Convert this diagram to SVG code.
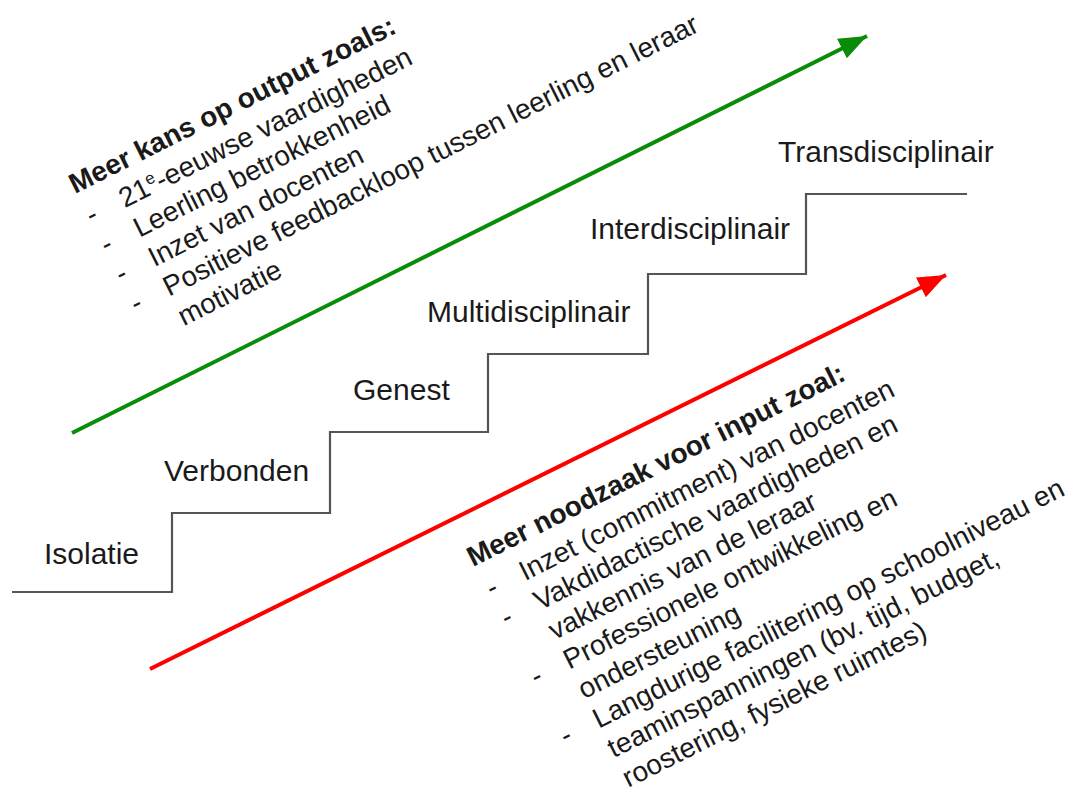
<svg xmlns="http://www.w3.org/2000/svg" width="1073" height="792" viewBox="0 0 1073 792">
<style>
text{font-family:"Liberation Sans",Arial,sans-serif;fill:#1a1a1a}
.step{font-size:30px}
.lst{font-size:28px}
.ttl{font-size:28px;font-weight:bold}
.stair{fill:none;stroke:#555;stroke-width:2.2}
.g{stroke:#0a8c0a;stroke-width:4;fill:none}
.r{stroke:#ff0000;stroke-width:4;fill:none}
</style>
<defs>
<marker id="ag" markerUnits="userSpaceOnUse" markerWidth="30" markerHeight="24" refX="28" refY="12" orient="auto"><path d="M0,1 L28,12 L0,23 Z" fill="#0a8c0a"/></marker>
<marker id="ar" markerUnits="userSpaceOnUse" markerWidth="30" markerHeight="24" refX="28" refY="12" orient="auto"><path d="M0,1 L28,12 L0,23 Z" fill="#ff0000"/></marker>
</defs>
<rect width="1073" height="792" fill="#fff"/>
<g id="staircase"><path class="stair" d="M12,592 H172 V513 H330 V432 H488 V354 H648 V274 H806 V194 H967"/></g>
<g id="connectors">
<path class="g" d="M72,433 L867,36" marker-end="url(#ag)"/>
<path class="r" d="M150,669 L946,275" marker-end="url(#ar)"/>
</g>
<g id="isolatie"><text class="step" x="44" y="564">Isolatie</text></g>
<g id="verbonden"><text class="step" x="164" y="481">Verbonden</text></g>
<g id="genest"><text class="step" x="353" y="400">Genest</text></g>
<g id="multidisciplinair"><text class="step" x="427" y="322">Multidisciplinair</text></g>
<g id="interdisciplinair"><text class="step" x="590" y="239">Interdisciplinair</text></g>
<g id="transdisciplinair"><text class="step" x="778" y="162">Transdisciplinair</text></g>
<g id="output" transform="translate(75,194) rotate(-26.6)">
<text class="ttl" x="0" y="0">Meer kans op output zoals:</text>
<text class="lst" x="1" y="35">-</text>
<text class="lst" x="1" y="68">-</text>
<text class="lst" x="1" y="101">-</text>
<text class="lst" x="1" y="134">-</text>
<text class="lst" x="38" y="35">21<tspan font-size="17" dy="-10">e</tspan><tspan dy="10">-eeuwse vaardigheden</tspan></text>
<text class="lst" x="38" y="68">Leerling betrokkenheid</text>
<text class="lst" x="38" y="101">Inzet van docenten</text>
<text class="lst" x="38" y="134">Positieve feedbackloop tussen leerling en leraar</text>
<text class="lst" x="38" y="167">motivatie</text>
</g>
<g id="input" transform="translate(473,567) rotate(-26.6)">
<text class="ttl" x="0" y="0">Meer noodzaak voor input zoal:</text>
<text class="lst" x="3" y="36">-</text>
<text class="lst" x="3" y="69">-</text>
<text class="lst" x="3" y="135">-</text>
<text class="lst" x="3" y="201">-</text>
<text class="lst" x="40" y="36">Inzet (commitment) van docenten</text>
<text class="lst" x="40" y="69">Vakdidactische vaardigheden en</text>
<text class="lst" x="40" y="102">vakkennis van de leraar</text>
<text class="lst" x="40" y="135">Professionele ontwikkeling en</text>
<text class="lst" x="40" y="168">ondersteuning</text>
<text class="lst" x="40" y="201">Langdurige facilitering op schoolniveau en</text>
<text class="lst" x="40" y="234">teaminspanningen (bv. tijd, budget,</text>
<text class="lst" x="40" y="267">roostering, fysieke ruimtes)</text>
</g>
</svg>
